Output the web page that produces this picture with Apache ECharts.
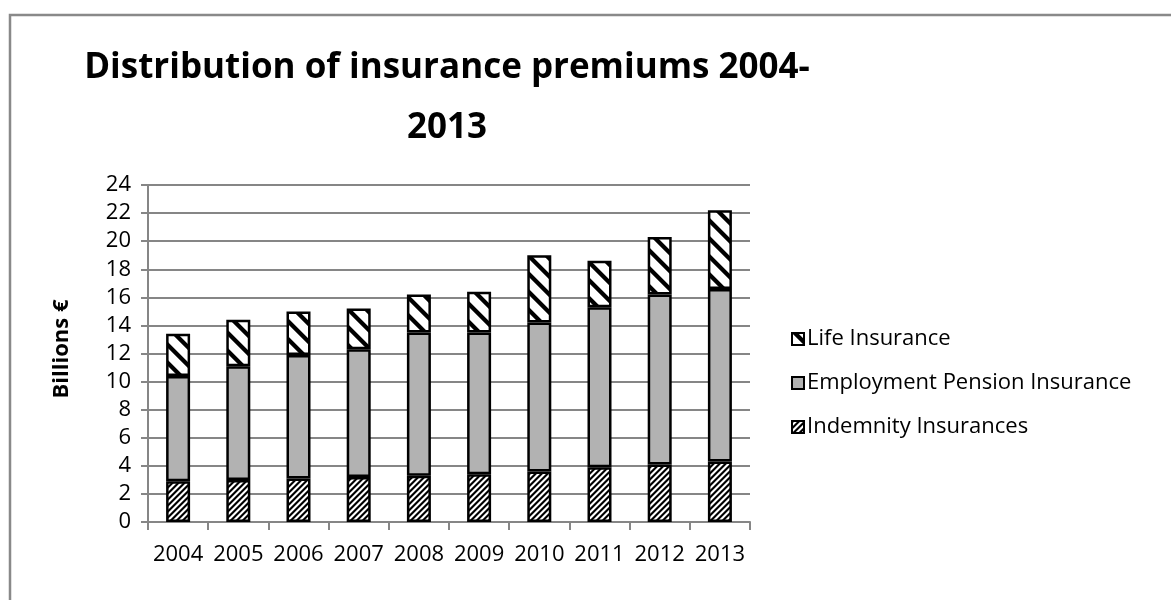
<!DOCTYPE html>
<html>
<head>
<meta charset="utf-8">
<script src="https://cdn.jsdelivr.net/npm/echarts@6/dist/echarts.min.js"></script>
<style>
html,body{margin:0;padding:0;background:#fff;}
#chart{width:1171px;height:600px;}
</style>
</head>
<body>
<div id="chart"></div>
<script>
// ---- data ----
const titleText = 'Distribution of insurance premiums 2004-\n2013';
const yAxisTitle = 'Billions €';
const years = ['2004','2005','2006','2007','2008','2009','2010','2011','2012','2013'];
const indemnity = [2.9, 3.0, 3.1, 3.2, 3.3, 3.4, 3.6, 3.9, 4.1, 4.3];
const employment = [7.5, 8.1, 8.8, 9.1, 10.2, 10.1, 10.6, 11.4, 12.1, 12.3];
const life = [3.0, 3.3, 3.1, 2.9, 2.7, 2.9, 4.8, 3.3, 4.1, 5.6];
const seriesNames = ['Indemnity Insurances', 'Employment Pension Insurance', 'Life Insurance'];
const yMin = 0, yMax = 24, yStep = 2;

// ---- stripe patterns ----
function makeStripes(period, width, dir) {
  const c = document.createElement('canvas');
  c.width = period; c.height = period;
  const ctx = c.getContext('2d');
  const img = ctx.createImageData(period, period);
  const S = 4;
  for (let y = 0; y < period; y++) {
    for (let x = 0; x < period; x++) {
      let cov = 0;
      for (let sy = 0; sy < S; sy++) for (let sx = 0; sx < S; sx++) {
        const px = x + (sx + 0.5) / S, py = y + (sy + 0.5) / S;
        let t = dir === 'up' ? (px + py) : (px - py);
        t = ((t % period) + period) % period;
        if (t < width) cov++;
      }
      const v = Math.round(255 * (1 - cov / (S * S)));
      const i = (y * period + x) * 4;
      img.data[i] = v; img.data[i+1] = v; img.data[i+2] = v; img.data[i+3] = 255;
    }
  }
  ctx.putImageData(img, 0, 0);
  return c;
}
const indemnityPattern = { image: makeStripes(6, 3, 'up'), repeat: 'repeat' };
const lifePattern = { image: makeStripes(18, 6, 'down'), repeat: 'repeat' };

const FONT = '"Open Sans", "Noto Sans", sans-serif';
const chart = echarts.init(document.getElementById('chart'), null, { renderer: 'canvas' });

function barSeries(name, data, color) {
  return {
    name: name, type: 'bar', stack: 'total', data: data, barWidth: 24,
    itemStyle: { color: color, borderColor: '#000', borderWidth: 2.5 },
    emphasis: { disabled: true }
  };
}
const legendBorder = { borderColor: '#000', borderWidth: 2 };

chart.setOption({
  animation: false,
  backgroundColor: '#fff',
  grid: { left: 148, right: 421, top: 185, bottom: 78, containLabel: false },
  xAxis: {
    type: 'category', data: years,
    axisLine: { show: true, lineStyle: { color: '#868686', width: 2 } },
    axisTick: { show: true, alignWithLabel: false, length: 8, lineStyle: { color: '#868686', width: 2 } },
    axisLabel: { color: '#000', fontSize: 22, fontFamily: FONT, margin: 22, interval: 0 },
    splitLine: { show: false }
  },
  yAxis: {
    type: 'value', min: yMin, max: yMax, interval: yStep,
    axisLine: { show: true, lineStyle: { color: '#868686', width: 2 } },
    axisTick: { show: true, length: 7, lineStyle: { color: '#868686', width: 2 } },
    axisLabel: { color: '#000', fontSize: 22, fontFamily: FONT, margin: 17 },
    splitLine: { show: true, lineStyle: { color: '#868686', width: 2 } }
  },
  legend: {
    orient: 'vertical', left: 791, top: 328, itemGap: 22, padding: 0,
    itemWidth: 12, itemHeight: 12, icon: 'rect',
    itemStyle: legendBorder,
    data: [
      { name: seriesNames[2], itemStyle: legendBorder },
      { name: seriesNames[1], itemStyle: legendBorder },
      { name: seriesNames[0], itemStyle: legendBorder }
    ],
    textStyle: { color: '#000', fontSize: 22, fontFamily: FONT, padding: [0, 0, 0, -2] },
    selectedMode: false
  },
  graphic: [
    { type: 'rect', silent: true, shape: { x: 10, y: 15, width: 1300, height: 800 },
      style: { fill: 'none', stroke: '#898989', lineWidth: 2.5 } },
    { type: 'text', x: 447, y: 38, silent: true,
      style: { text: titleText, font: 'bold 35px ' + FONT, fill: '#000', textAlign: 'center', textVerticalAlign: 'top', lineHeight: 60 } },
    { type: 'text', x: 62, y: 349, rotation: Math.PI / 2, silent: true,
      style: { text: yAxisTitle, font: 'bold 22px ' + FONT, fill: '#000', textAlign: 'center', textVerticalAlign: 'middle' } }
  ],
  series: [
    barSeries(seriesNames[0], indemnity, indemnityPattern),
    barSeries(seriesNames[1], employment, '#b2b2b2'),
    barSeries(seriesNames[2], life, lifePattern)
  ]
});
</script>
</body>
</html>
